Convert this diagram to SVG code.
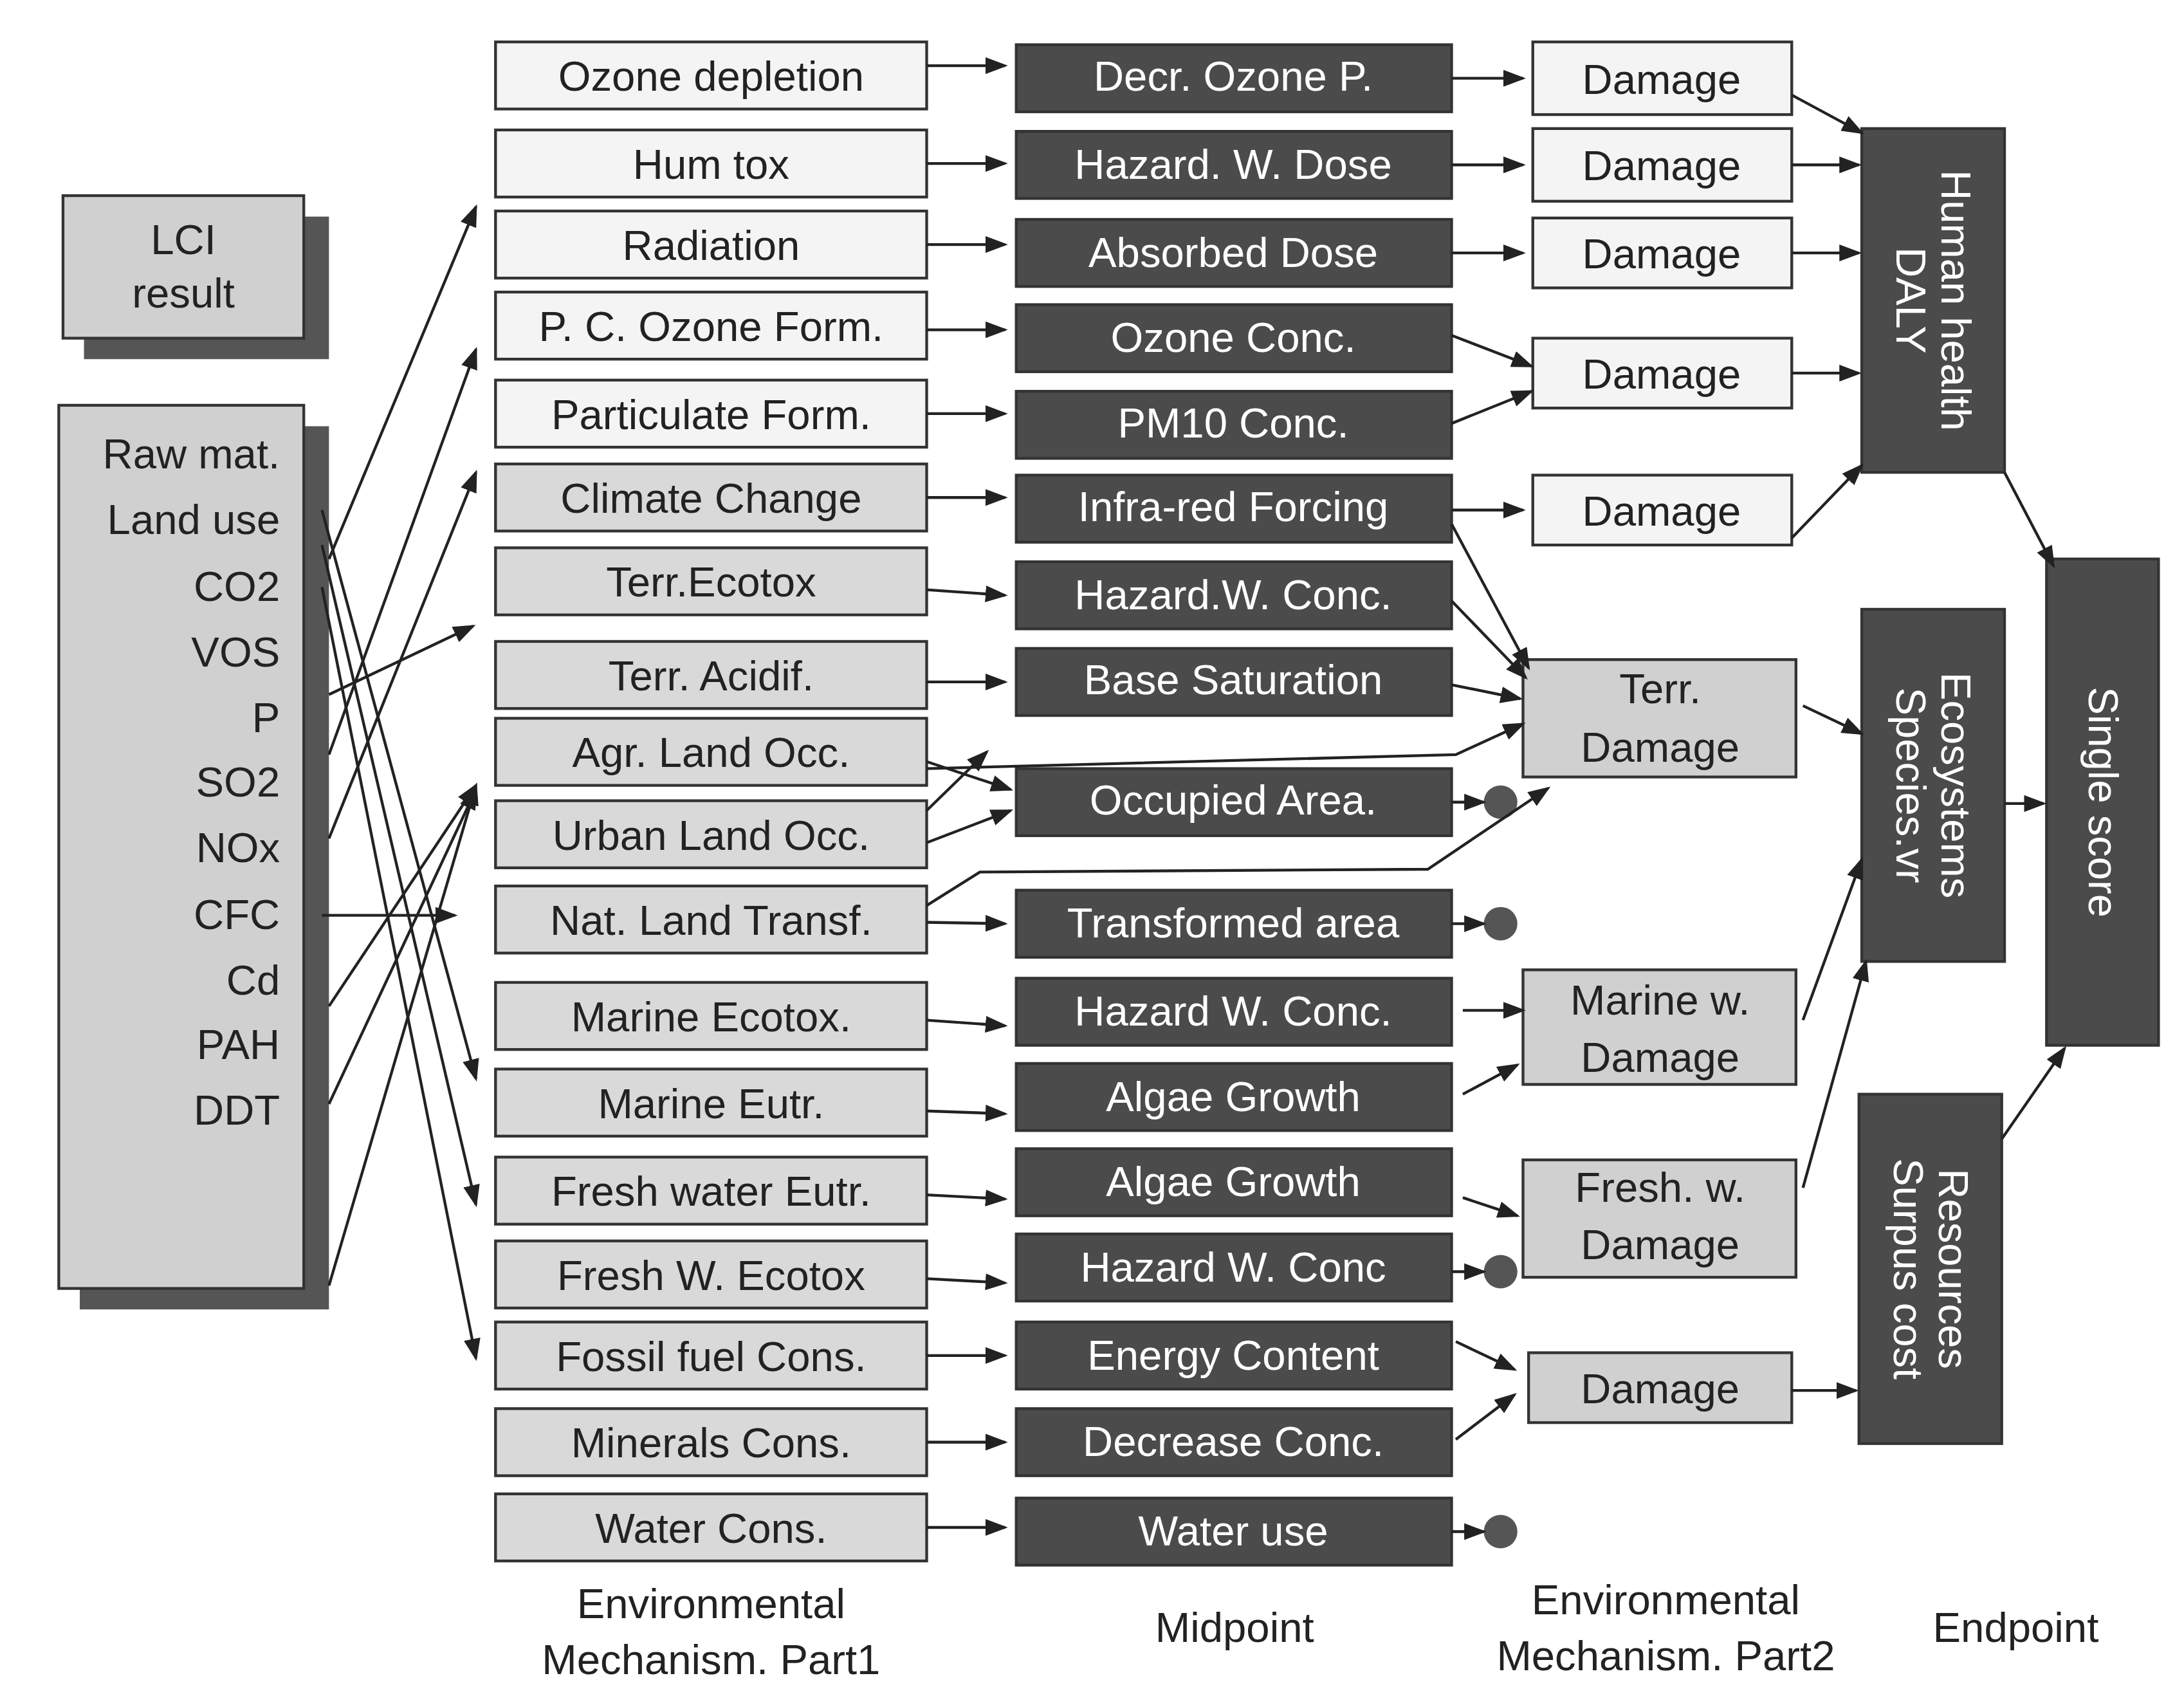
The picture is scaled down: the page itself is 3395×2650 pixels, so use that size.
<svg xmlns="http://www.w3.org/2000/svg" width="3395" height="2650" viewBox="0 0 3395 2650">
<style>
text{font-family:"Liberation Sans",Arial,sans-serif;font-size:30px;fill:#222;text-anchor:middle}
.w{fill:#fff}
.b1{fill:#f4f4f4;stroke:#333;stroke-width:2}
.b2{fill:#d9d9d9;stroke:#333;stroke-width:2}
.d{fill:#4b4b4b;stroke:#333;stroke-width:2}
.g{fill:#d0d0d0;stroke:#333;stroke-width:2}
.sh{fill:#555}
.c line,.c path{stroke:#222;stroke-width:2;fill:none;marker-end:url(#a)}
.dot{fill:#555}
</style>
<defs><marker id="a" markerUnits="userSpaceOnUse" markerWidth="16" markerHeight="12" refX="14" refY="6" orient="auto"><path d="M0,0L16,6L0,12z" fill="#222"/></marker></defs>
<rect width="3395" height="2650" fill="#fff"/>
<g transform="scale(2.176,2.172)">
<g id="lci"><rect class="sh" x="60" y="155" width="175" height="102"/><rect class="g" x="45" y="140" width="172" height="102"/><text x="131" y="182">LCI</text><text x="131" y="220">result</text></g>
<g id="list"><rect class="sh" x="57" y="305" width="178" height="632"/><rect class="g" x="42" y="290" width="175" height="632"/>
<g style="text-anchor:end"><text x="200" y="335" style="text-anchor:end">Raw mat.</text><text x="200" y="382" style="text-anchor:end">Land use</text><text x="200" y="430" style="text-anchor:end">CO2</text><text x="200" y="477" style="text-anchor:end">VOS</text><text x="200" y="524" style="text-anchor:end">P</text><text x="200" y="570" style="text-anchor:end">SO2</text><text x="200" y="617" style="text-anchor:end">NOx</text><text x="200" y="665" style="text-anchor:end">CFC</text><text x="200" y="712" style="text-anchor:end">Cd</text><text x="200" y="758" style="text-anchor:end">PAH</text><text x="200" y="805" style="text-anchor:end">DDT</text></g></g>
<g id="col1">
<rect class="b1" x="354" y="30" width="308" height="48"/><text x="508" y="65">Ozone depletion</text>
<rect class="b1" x="354" y="93" width="308" height="48"/><text x="508" y="128">Hum tox</text>
<rect class="b1" x="354" y="151" width="308" height="48"/><text x="508" y="186">Radiation</text>
<rect class="b1" x="354" y="209" width="308" height="48"/><text x="508" y="244">P. C. Ozone Form.</text>
<rect class="b1" x="354" y="272" width="308" height="48"/><text x="508" y="307">Particulate Form.</text>
<rect class="b2" x="354" y="332" width="308" height="48"/><text x="508" y="367">Climate Change</text>
<rect class="b2" x="354" y="392" width="308" height="48"/><text x="508" y="427">Terr.Ecotox</text>
<rect class="b2" x="354" y="459" width="308" height="48"/><text x="508" y="494">Terr. Acidif.</text>
<rect class="b2" x="354" y="514" width="308" height="48"/><text x="508" y="549">Agr. Land Occ.</text>
<rect class="b2" x="354" y="573" width="308" height="48"/><text x="508" y="608">Urban Land Occ.</text>
<rect class="b2" x="354" y="634" width="308" height="48"/><text x="508" y="669">Nat. Land Transf.</text>
<rect class="b2" x="354" y="703" width="308" height="48"/><text x="508" y="738">Marine Ecotox.</text>
<rect class="b2" x="354" y="765" width="308" height="48"/><text x="508" y="800">Marine Eutr.</text>
<rect class="b2" x="354" y="828" width="308" height="48"/><text x="508" y="863">Fresh water Eutr.</text>
<rect class="b2" x="354" y="888" width="308" height="48"/><text x="508" y="923">Fresh W. Ecotox</text>
<rect class="b2" x="354" y="946" width="308" height="48"/><text x="508" y="981">Fossil fuel Cons.</text>
<rect class="b2" x="354" y="1008" width="308" height="48"/><text x="508" y="1043">Minerals Cons.</text>
<rect class="b2" x="354" y="1069" width="308" height="48"/><text x="508" y="1104">Water Cons.</text>
</g>
<g id="col2">
<rect class="d" x="726" y="32" width="311" height="48"/><text class="w" x="881" y="65">Decr. Ozone P.</text>
<rect class="d" x="726" y="94" width="311" height="48"/><text class="w" x="881" y="128">Hazard. W. Dose</text>
<rect class="d" x="726" y="157" width="311" height="48"/><text class="w" x="881" y="191">Absorbed Dose</text>
<rect class="d" x="726" y="218" width="311" height="48"/><text class="w" x="881" y="252">Ozone Conc.</text>
<rect class="d" x="726" y="280" width="311" height="48"/><text class="w" x="881" y="313">PM10 Conc.</text>
<rect class="d" x="726" y="340" width="311" height="48"/><text class="w" x="881" y="373">Infra-red Forcing</text>
<rect class="d" x="726" y="402" width="311" height="48"/><text class="w" x="881" y="436">Hazard.W. Conc.</text>
<rect class="d" x="726" y="464" width="311" height="48"/><text class="w" x="881" y="497">Base Saturation</text>
<rect class="d" x="726" y="550" width="311" height="48"/><text class="w" x="881" y="583">Occupied Area.</text>
<rect class="d" x="726" y="637" width="311" height="48"/><text class="w" x="881" y="671">Transformed area</text>
<rect class="d" x="726" y="700" width="311" height="48"/><text class="w" x="881" y="734">Hazard W. Conc.</text>
<rect class="d" x="726" y="761" width="311" height="48"/><text class="w" x="881" y="795">Algae Growth</text>
<rect class="d" x="726" y="822" width="311" height="48"/><text class="w" x="881" y="856">Algae Growth</text>
<rect class="d" x="726" y="883" width="311" height="48"/><text class="w" x="881" y="917">Hazard W. Conc</text>
<rect class="d" x="726" y="946" width="311" height="48"/><text class="w" x="881" y="980">Energy Content</text>
<rect class="d" x="726" y="1008" width="311" height="48"/><text class="w" x="881" y="1042">Decrease Conc.</text>
<rect class="d" x="726" y="1072" width="311" height="48"/><text class="w" x="881" y="1106">Water use</text>
</g>
<g id="col3">
<rect class="b1" x="1095" y="30" width="185" height="52"/><text x="1187" y="67">Damage</text>
<rect class="b1" x="1095" y="92" width="185" height="52"/><text x="1187" y="129">Damage</text>
<rect class="b1" x="1095" y="156" width="185" height="50"/><text x="1187" y="192">Damage</text>
<rect class="b1" x="1095" y="242" width="185" height="50"/><text x="1187" y="278">Damage</text>
<rect class="b1" x="1095" y="340" width="185" height="50"/><text x="1187" y="376">Damage</text>
<rect class="g" x="1088" y="472" width="195" height="84"/><text x="1186" y="503">Terr.</text><text x="1186" y="545">Damage</text>
<rect class="g" x="1088" y="694" width="195" height="82"/><text x="1186" y="726">Marine w.</text><text x="1186" y="767">Damage</text>
<rect class="g" x="1088" y="830" width="195" height="84"/><text x="1186" y="860">Fresh. w.</text><text x="1186" y="901">Damage</text>
<rect class="g" x="1092" y="968" width="188" height="50"/><text x="1186" y="1004">Damage</text>
</g>
<g id="end">
<rect class="d" x="1330" y="92" width="102" height="246"/><text class="w" transform="translate(1381,215) rotate(90)" y="-6">Human health</text><text class="w" transform="translate(1381,215) rotate(90)" y="26">DALY</text>
<rect class="d" x="1330" y="436" width="102" height="252"/><text class="w" transform="translate(1381,562) rotate(90)" y="-6">Ecosystems</text><text class="w" transform="translate(1381,562) rotate(90)" y="26">Species.vr</text>
<rect class="d" x="1328" y="783" width="102" height="250"/><text class="w" transform="translate(1379,908) rotate(90)" y="-6">Resources</text><text class="w" transform="translate(1379,908) rotate(90)" y="26">Surpus cost</text>
<rect class="d" x="1462" y="400" width="80" height="348"/><text class="w" transform="translate(1502,574) rotate(90)" y="10">Single score</text>
</g>
<g id="dots"><circle class="dot" cx="1072" cy="574" r="12"/><circle class="dot" cx="1072" cy="661" r="12"/><circle class="dot" cx="1072" cy="910" r="12"/><circle class="dot" cx="1072" cy="1096" r="12"/></g>
<g id="labels"><text x="508" y="1158">Environmental</text><text x="508" y="1198">Mechanism. Part1</text><text x="882" y="1175">Midpoint</text><text x="1190" y="1155">Environmental</text><text x="1190" y="1195">Mechanism. Part2</text><text x="1440" y="1175">Endpoint</text></g>
<g class="c">
<line x1="235" y1="400" x2="340" y2="148"/><line x1="235" y1="540" x2="340" y2="250"/><line x1="235" y1="600" x2="340" y2="338"/>
<line x1="235" y1="497" x2="338" y2="448"/><line x1="230" y1="655" x2="325" y2="655"/>
<line x1="230" y1="365" x2="340" y2="772"/><line x1="230" y1="390" x2="340" y2="862"/><line x1="230" y1="420" x2="340" y2="972"/>
<line x1="235" y1="720" x2="340" y2="562"/><line x1="235" y1="790" x2="340" y2="565"/><line x1="235" y1="920" x2="340" y2="562"/>
<line x1="662" y1="47" x2="718" y2="47"/><line x1="662" y1="117" x2="718" y2="117"/><line x1="662" y1="175" x2="718" y2="175"/><line x1="662" y1="236" x2="718" y2="236"/><line x1="662" y1="296" x2="718" y2="296"/><line x1="662" y1="356" x2="718" y2="356"/><line x1="662" y1="422" x2="718" y2="426"/><line x1="662" y1="488" x2="718" y2="488"/>
<line x1="662" y1="545" x2="722" y2="565"/><line x1="662" y1="603" x2="722" y2="580"/><line x1="662" y1="580" x2="705" y2="538"/>
<line x1="662" y1="660" x2="718" y2="661"/><line x1="662" y1="730" x2="718" y2="734"/><line x1="662" y1="795" x2="718" y2="797"/><line x1="662" y1="855" x2="718" y2="858"/><line x1="662" y1="915" x2="718" y2="918"/><line x1="662" y1="970" x2="718" y2="970"/><line x1="662" y1="1032" x2="718" y2="1032"/><line x1="662" y1="1093" x2="718" y2="1093"/>
<line x1="1037" y1="56" x2="1088" y2="56"/><line x1="1037" y1="118" x2="1088" y2="118"/><line x1="1037" y1="181" x2="1088" y2="181"/>
<line x1="1037" y1="240" x2="1094" y2="262"/><line x1="1037" y1="303" x2="1094" y2="280"/><line x1="1037" y1="365" x2="1088" y2="365"/>
<line x1="1037" y1="375" x2="1092" y2="478"/><line x1="1037" y1="430" x2="1090" y2="485"/><line x1="1037" y1="490" x2="1086" y2="500"/>
<path d="M662,550 L1040,540 L1088,518"/><path d="M662,648 L700,624 L1020,622 L1106,564"/>
<line x1="1037" y1="574" x2="1060" y2="574"/><line x1="1037" y1="661" x2="1060" y2="661"/><line x1="1037" y1="910" x2="1060" y2="910"/><line x1="1037" y1="1096" x2="1060" y2="1096"/>
<line x1="1045" y1="723" x2="1088" y2="723"/><line x1="1045" y1="783" x2="1084" y2="762"/><line x1="1045" y1="857" x2="1084" y2="870"/>
<line x1="1040" y1="960" x2="1082" y2="980"/><line x1="1040" y1="1030" x2="1082" y2="998"/>
<line x1="1280" y1="68" x2="1330" y2="95"/><line x1="1280" y1="118" x2="1328" y2="118"/><line x1="1280" y1="181" x2="1328" y2="181"/><line x1="1280" y1="267" x2="1328" y2="267"/><line x1="1280" y1="385" x2="1330" y2="333"/>
<line x1="1288" y1="505" x2="1330" y2="525"/><line x1="1288" y1="730" x2="1330" y2="615"/><line x1="1288" y1="850" x2="1333" y2="688"/><line x1="1280" y1="995" x2="1326" y2="995"/>
<line x1="1432" y1="338" x2="1467" y2="405"/><line x1="1432" y1="575" x2="1460" y2="575"/><line x1="1430" y1="815" x2="1475" y2="750"/>
</g>
</g>
</svg>
